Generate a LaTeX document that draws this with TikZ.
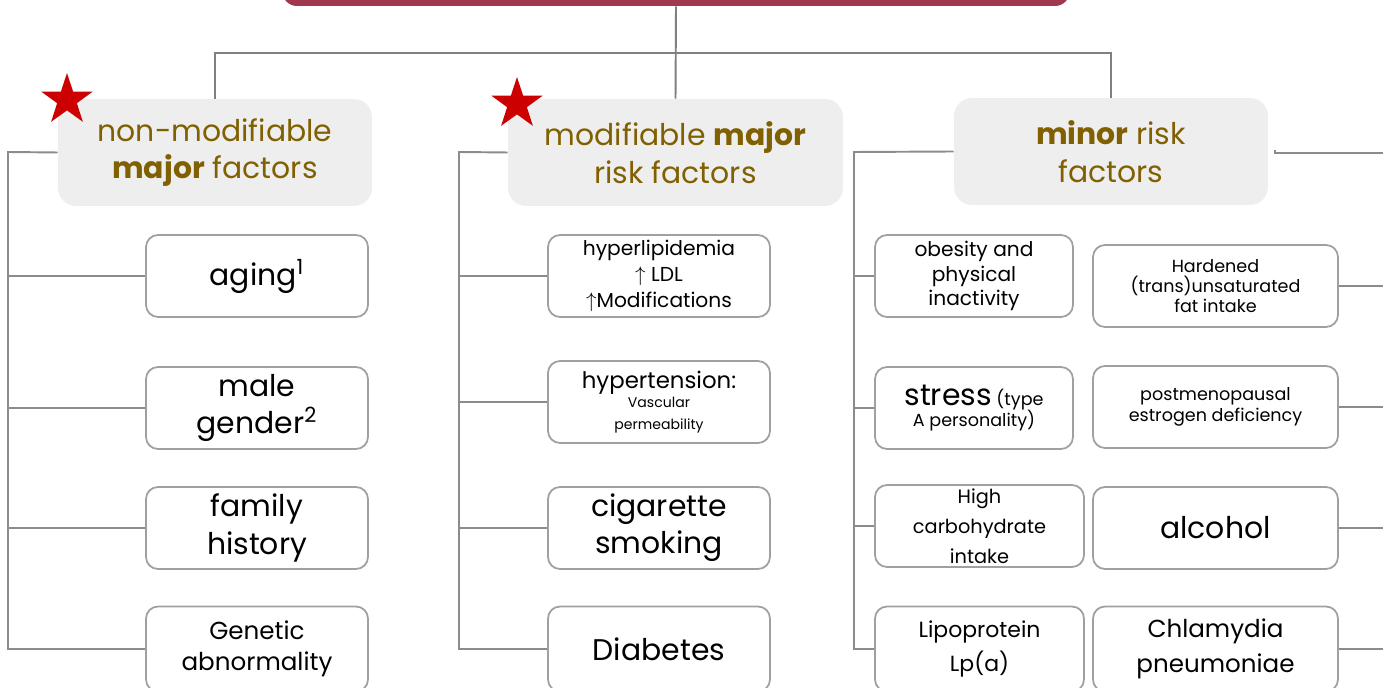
\documentclass[tikz,border=0pt]{standalone}
\usepackage{fontspec}
\setmainfont{Poppins}
\usepackage{tikz}
\usetikzlibrary{shapes.geometric,positioning,calc}

\definecolor{barred}{RGB}{160,56,80}
\definecolor{headfill}{RGB}{238,238,238}
\definecolor{headtext}{RGB}{128,96,0}
\definecolor{boxgray}{RGB}{160,160,160}
\definecolor{linegray}{RGB}{140,140,140}
\definecolor{starred}{RGB}{204,0,0}

\newcommand{\fsz}[2]{\fontsize{#1}{#2}\selectfont}

\begin{document}
\begin{tikzpicture}[x=0.02cm, y=-0.02cm,
    head/.style={align=center, fill=headfill, text=headtext, rounded corners=0.36cm, minimum width=6.28cm, minimum height=2.14cm, inner sep=2pt, font=\fsz{17}{21.5}},
    factor/.style={align=center, draw=boxgray, line width=1pt, rounded corners=0.24cm, minimum width=4.44cm, minimum height=1.64cm, inner sep=1pt},
    link/.style={draw=linegray, line width=1.1pt},
    redstar/.style={star, star points=5, star point ratio=2.6, fill=starred, minimum size=1.08cm, inner sep=0pt}]
    \useasboundingbox (0,0) rectangle (1383,688);
    \clip (0,0) rectangle (1383,688);

    % title bar (cut off at the top)
    \node [fill=barred, rounded corners=0.3cm, minimum width=15.76cm, minimum height=1.2cm] (root) at (676,-24) {};

    % the three groups
    \node [head] (h1) at (215,152.5) {non-modifiable\\\textbf{major} factors};
    \node [head, minimum width=6.7cm] (h2) at (675.5,152.5) {modifiable \textbf{major}\\risk factors};
    \node [head] (h3) at (1111,151.5) {\textbf{minor} risk\\factors};

    \node [redstar] (star1) at (67,100) {};
    \node [redstar] (star2) at (517,104) {};

    % non-modifiable
    \node [factor, font=\fsz{17}{21}] (a1) at (257,276) {aging\textsuperscript{1}};
    \node [factor, font=\fsz{17}{21.5}] (a2) at (257,408) {male\\gender\textsuperscript{2}};
    \node [factor, font=\fsz{17}{21.5}] (a3) at (257,528) {family\\history};
    \node [factor, font=\fsz{14}{18}, minimum height=1.7cm] (a4) at (257,649) {Genetic\\abnormality};

    % modifiable
    \node [factor, font=\fsz{11.5}{14.7}] (m1) at (659,276) {hyperlipidemia\\$\uparrow$ LDL\\$\uparrow$Modifications};
    \node [factor] (m2) at (659,402) {{\fsz{13}{14}hypertension:}\\[-1pt]{\fsz{8}{15}Vascular}\\{\fsz{8}{15}permeability}};
    \node [factor, font=\fsz{17}{21}] (m3) at (659,528) {cigarette\\smoking};
    \node [factor, font=\fsz{17}{21}, minimum height=1.7cm] (m4) at (659,649) {Diabetes};

    % minor, first column
    \node [factor, font=\fsz{11.5}{14}, minimum width=3.96cm] (r1) at (974,276) {obesity and\\physical\\inactivity};
    \node [factor, minimum width=3.96cm] (r2) at (974,408) {{\fsz{17}{18}stress} {\fsz{10}{12}(type}\\{\fsz{10}{12}A personality)}};
    \node [factor, font=\fsz{11}{17}, minimum width=4.18cm] (r3) at (979.5,526) {High\\carbohydrate\\intake};
    \node [factor, font=\fsz{12.5}{19.5}, minimum width=4.18cm, minimum height=1.7cm] (r4) at (979.5,649) {Lipoprotein\\Lp(a)};

    % minor, second column
    \node [factor, font=\fsz{10}{11.5}, minimum width=4.9cm] (q1) at (1215.5,286) {Hardened\\(trans)unsaturated\\fat intake};
    \node [factor, font=\fsz{10}{12}, minimum width=4.9cm] (q2) at (1215.5,407) {postmenopausal\\estrogen deficiency};
    \node [factor, font=\fsz{17}{21}, minimum width=4.9cm] (q3) at (1215.5,528) {alcohol};
    \node [factor, font=\fsz{14}{20}, minimum width=4.9cm, minimum height=1.7cm] (q4) at (1215.5,649) {Chlamydia\\pneumoniae};

    % tree from the title
    \draw [link, draw=gray] (root.south) -- (h2.north);
    \draw [link, draw=gray] (h1.north) -- ++(0,-46) -| (h3.north);

    % spines
    \coordinate (s1) at (8,152);
    \coordinate (s2) at (459,152);
    \coordinate (s3) at (854,152);
    \draw [link] (h1.west) -- (s1) |- (a4.west);
    \draw [link] (h2.west) -- (s2) |- (m4.west);
    \draw [link] (h3.west) -- (s3) |- (r4.west);
    \foreach \b in {a1,a2,a3} \draw [link] (s1 |- \b.west) -- (\b.west);
    \foreach \b in {m1,m2,m3} \draw [link] (s2 |- \b.west) -- (\b.west);
    \foreach \b in {r1,r2,r3} \draw [link] (s3 |- \b.west) -- (\b.west);

    % lines running off to the right
    \coordinate (edge) at (1383,0);
    \coordinate (tick) at (1275,150);
    \draw [link] (tick) |- ($(edge)+(0,153)$);
    \foreach \b in {q1,q2,q3,q4} \draw [link] (\b.east) -- (edge |- \b.east);
\end{tikzpicture}
\end{document}
